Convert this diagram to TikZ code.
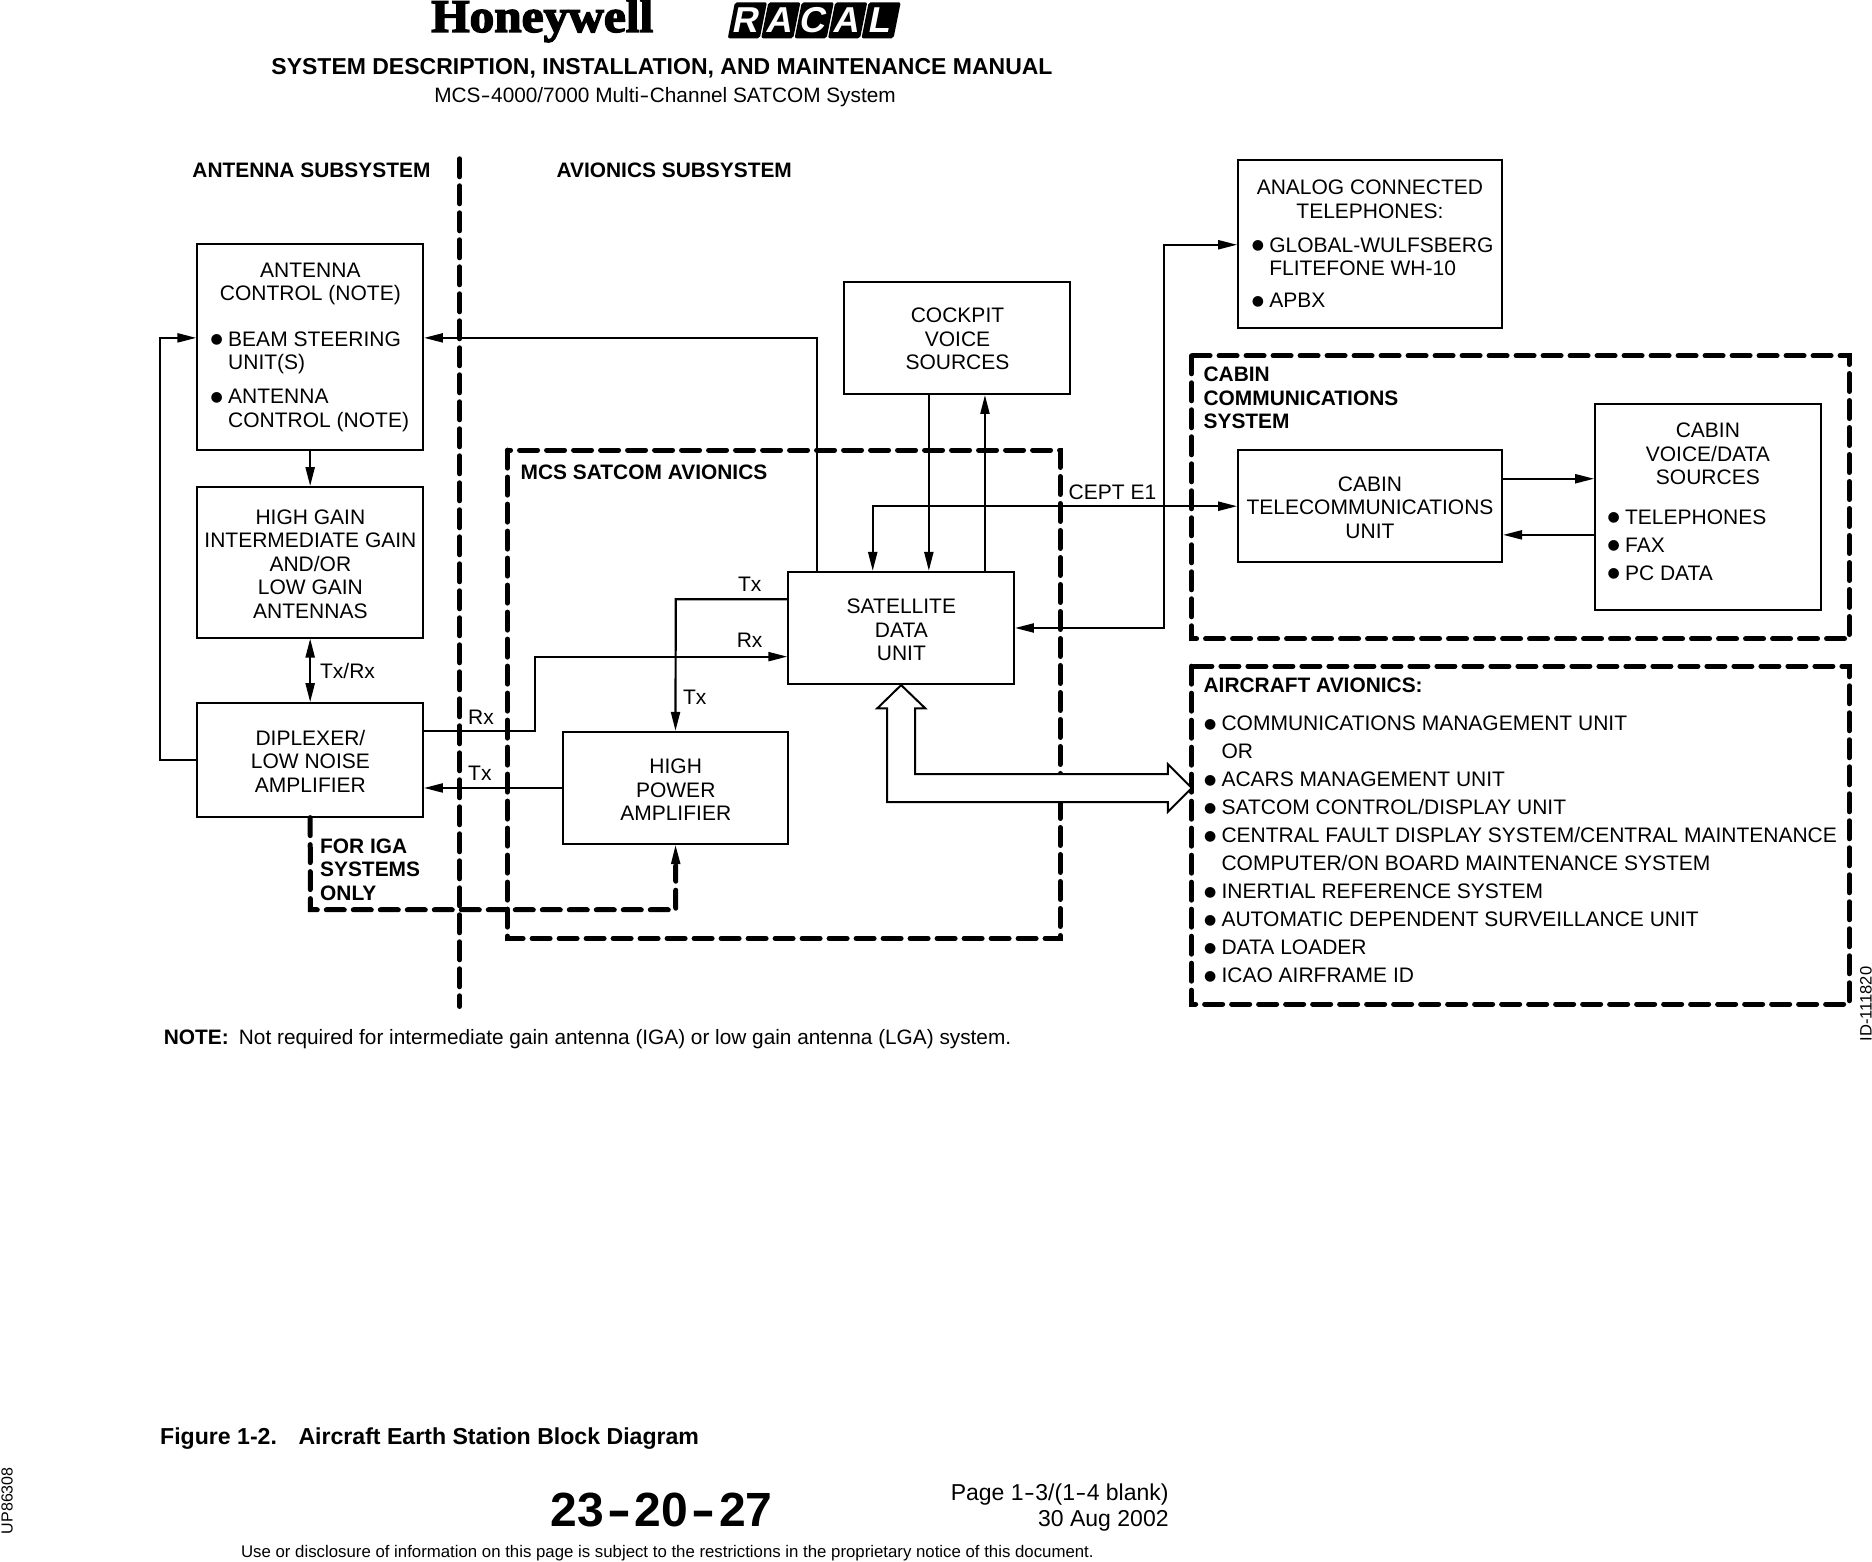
\documentclass[tikz,border=0pt]{standalone}
\usepackage{fontspec}
\setmainfont{Liberation Sans}
\newfontfamily\logofont[BoldFeatures={FakeBold=3}]{Liberation Serif}
\newfontfamily\dotfont{DejaVu Sans}
\usetikzlibrary{arrows.meta}
\newcommand{\bul}{\llap{\raisebox{2.5pt}{\dotfont\fontsize{14}{14}\selectfont ●}\hspace{5.3pt}}}
\newcommand{\hy}{\hspace{0.5pt}\scalebox{1.4}[1]{-}\hspace{0.5pt}}
\newcommand{\bighy}{\hspace{3.5pt}\scalebox{1.5}[1]{-}\hspace{3.5pt}}
\tikzset{
	box/.style={draw, fill=white, line width=2pt, minimum width=225.6pt, inner sep=0pt},
	lbl/.style={inner sep=0pt, anchor=base west, font=\boxfont},
	head/.style={inner sep=0pt, anchor=base west, align=left, font=\headfont},
	list/.style={inner sep=0pt, anchor=north west, align=left, font=\boxfont},
	title/.style={inner sep=0pt, align=center, font=\boxfont},
	conn/.style={line width=2.2pt, >={Triangle[length=19pt,width=9pt]}},
	bold dash/.style={line width=5pt, line cap=round, dash pattern=on 18pt off 9pt},
	tile/.style={fill=black, text=white, inner sep=0pt, minimum width=32pt, minimum height=36pt, rounded corners=2pt, xslant=0.2, transform shape, font=\fontsize{36}{36}\selectfont\bfseries},
}
\newcommand{\boxfont}{\fontsize{21}{23.4}\selectfont}
\newcommand{\headfont}{\fontsize{20.9}{23.4}\selectfont\bfseries}
\begin{document}
\begin{tikzpicture}[x=1.1939pt, y=-1.1939pt]
	\useasboundingbox (0,0) rectangle (1568,1308);
	% page head
	\node[inner sep=0pt, anchor=base west] (honeywell) at (361,26.8) {\fontsize{47}{47}\logofont\selectfont\bfseries\scalebox{1.05}[1]{Honeywell}};
	\node[tile] (logoR) at (626,17) {R};
	\node[tile] (logoA) at (654,17) {A};
	\node[tile] (logoC) at (682,17) {C};
	\node[tile] (logoB) at (710,17) {A};
	\node[tile] (logoL) at (738,17) {L};
	\node[inner sep=0pt] (manual) at (554.5,57) {\fontsize{23}{23}\selectfont\bfseries SYSTEM DESCRIPTION, INSTALLATION, AND MAINTENANCE MANUAL};
	\node[inner sep=0pt] (system) at (557,81) {\fontsize{20.8}{21}\selectfont MCS\hy 4000/7000 Multi\hy Channel SATCOM System};

	% subsystem divider and dashed groups
	\coordinate (divtop) at (385,133);
	\coordinate (divend) at (385,843);
	\draw[bold dash] (divtop) -- (divend);
	\draw[bold dash] (425,377) rectangle (888,786);
	\draw[bold dash] (998,298) rectangle (1549,535);
	\draw[bold dash] (998,558) rectangle (1549,841);
	\node[head] (antsub) at (161,149) {ANTENNA SUBSYSTEM};
	\node[head] (avisub) at (466,149) {AVIONICS SUBSYSTEM};
	\node[head] (mcshead) at (436,402) {MCS SATCOM AVIONICS};
	\node[head, anchor=north west] (cabinhead) at (1008,307.5) {CABIN\\COMMUNICATIONS\\SYSTEM};
	\node[head] (airhead) at (1008,580) {AIRCRAFT AVIONICS:};

	% boxes
	\node[box, minimum height=206.5pt] (antctl) at (259.8,290.5) {};
	\node[title] (antctltitle) at (260,238) {ANTENNA\\CONTROL (NOTE)};
	\node[list] (antctllist) at (191,277.5) {\bul BEAM STEERING\\UNIT(S)\\[11pt]\bul ANTENNA\\CONTROL (NOTE)};
	\node[box, minimum height=150.4pt] (hga) at (259.8,471) {};
	\node[title] (hgatitle) at (260,472.5) {HIGH GAIN\\INTERMEDIATE GAIN\\AND/OR\\LOW GAIN\\ANTENNAS};
	\node[box, minimum height=113.4pt] (diplex) at (259.8,636.5) {};
	\node[title] (diplextitle) at (260,637.5) {DIPLEXER/\\LOW NOISE\\AMPLIFIER};
	\node[box, minimum height=112.2pt] (cockpit) at (801.8,283) {};
	\node[title] (cockpittitle) at (802,284) {COCKPIT\\VOICE\\SOURCES};
	\node[box, minimum height=112.2pt] (sdu) at (754.8,526) {};
	\node[title] (sdutitle) at (755,527.5) {SATELLITE\\DATA\\UNIT};
	\node[box, minimum height=112.2pt] (hpa) at (565.8,660) {};
	\node[title] (hpatitle) at (566,661.5) {HIGH\\POWER\\AMPLIFIER};
	\node[box, minimum width=263.9pt, minimum height=168.3pt] (analog) at (1147.6,204.5) {};
	\node[title] (analogtitle) at (1147.5,167) {ANALOG CONNECTED\\TELEPHONES:};
	\node[list] (analoglist) at (1063,199) {\bul GLOBAL-WULFSBERG\\FLITEFONE WH-10\\[8.6pt]\bul APBX};
	\node[box, minimum width=263.9pt, minimum height=112.2pt] (ctu) at (1147.6,424) {};
	\node[title] (ctutitle) at (1147.5,425) {CABIN\\TELECOMMUNICATIONS\\UNIT};
	\node[box, minimum height=206.5pt] (cvd) at (1430.6,424.5) {};
	\node[title] (cvdtitle) at (1430.5,380.3) {CABIN\\VOICE/DATA\\SOURCES};
	\node[list, font=\fontsize{21}{28}\selectfont] (cvdlist) at (1361,426.5) {\bul TELEPHONES\\\bul FAX\\\bul PC DATA};
	\node[list, font=\fontsize{21}{28}\selectfont] (airlist) at (1023,599.5) {\bul COMMUNICATIONS MANAGEMENT UNIT\\OR\\\bul ACARS MANAGEMENT UNIT\\\bul SATCOM CONTROL/DISPLAY UNIT\\\bul CENTRAL FAULT DISPLAY SYSTEM/CENTRAL MAINTENANCE\\COMPUTER/ON BOARD MAINTENANCE SYSTEM\\\bul INERTIAL REFERENCE SYSTEM\\\bul AUTOMATIC DEPENDENT SURVEILLANCE UNIT\\\bul DATA LOADER\\\bul ICAO AIRFRAME ID};

	% connectors
	\coordinate (steer) at (684,283);
	\coordinate (feedback) at (134,636.5);
	\coordinate (rxlow) at (448,612);
	\coordinate (rxhigh) at (448,550);
	\coordinate (txsdu) at (566,502);
	\coordinate (voicedown) at (778,400);
	\coordinate (voiceup) at (825,400);
	\coordinate (cept) at (731,424);
	\coordinate (analoglow) at (975,526);
	\coordinate (analoghigh) at (975,205);
	\coordinate (cabinout) at (1297,401);
	\coordinate (cabinin) at (1297,448);
	\draw[conn,->] (steer |- sdu.north) -- (steer) -- (steer -| antctl.east);
	\draw[conn,->] (diplex.west) -- (feedback) -- (feedback |- steer) -- (steer -| antctl.west);
	\draw[conn,->] (antctl.south) -- (hga.north);
	\draw[conn,<->] (hga.south) -- (diplex.north);
	\draw[conn,->] (rxlow -| diplex.east) -- (rxlow) -- (rxhigh) -- (rxhigh -| sdu.west);
	\draw[conn,->] (hpa.west) -- (hpa.west -| diplex.east);
	\draw[conn,->] (txsdu -| sdu.west) -- (txsdu) -- (hpa.north);
	\draw[conn,->] (voicedown |- cockpit.south) -- (voicedown |- sdu.north);
	\draw[conn,->] (voiceup |- sdu.north) -- (voiceup |- cockpit.south);
	\draw[conn,<->] (cept |- sdu.north) -- (cept) -- (ctu.west);
	\draw[conn,<->] (analoglow -| sdu.east) -- (analoglow) -- (analoghigh) -- (analoghigh -| analog.west);
	\draw[conn,->] (cabinout -| ctu.east) -- (cabinout -| cvd.west);
	\draw[conn,->] (cabinin -| cvd.west) -- (cabinin -| ctu.east);
	\coordinate (igalow) at (260,762);
	\coordinate (igahigh) at (566,725);
	\draw[bold dash] (diplex.south) -- (igalow) -- (igalow -| igahigh) -- (igahigh);
	\draw[conn,->] (igahigh) -- (hpa.south);
	\draw[fill=white, line width=2pt, line join=miter] (sdu.south) -- ++(-20,19.5) -- ++(8.2,0) -- (743,671.8) -- (978.3,671.8) -- (978.3,679.9) -- (998.2,660) -- (978.3,640.2) -- (978.3,648.3) -- (766.4,648.3) -- (766.4,593.3) -- (775,593.3) -- cycle;

	% connector labels
	\node[lbl] (lbltxrx) at (268,568.5) {Tx/Rx};
	\node[lbl] (lblrxa) at (392,606.5) {Rx};
	\node[lbl] (lbltxa) at (392,654) {Tx};
	\node[lbl] (lblrxb) at (617,542.5) {Rx};
	\node[lbl] (lbltxb) at (618,495.5) {Tx};
	\node[lbl] (lbltxc) at (572,590.5) {Tx};
	\node[lbl] (lblcept) at (895,418) {CEPT E1};
	\node[head, anchor=north west] (igahead) at (268,702.5) {FOR IGA\\SYSTEMS\\ONLY};
	\node[head] (notehead) at (137,875) {NOTE:};
	\node[lbl, font=\fontsize{20.8}{23}\selectfont] (notetext) at (200,875) {Not required for intermediate gain antenna (IGA) or low gain antenna (LGA) system.};
	\node[inner sep=0pt, rotate=90, font=\fontsize{16.5}{16.5}\selectfont] (figid) at (1563,841) {ID-111820};

	% page foot
	\node[head, font=\fontsize{23.1}{23}\selectfont\bfseries] (caption) at (134,1210) {Figure 1-2.\hspace{13pt} Aircraft Earth Station Block Diagram};
	\node[inner sep=0pt, font=\fontsize{48}{48}\selectfont\bfseries] (chapter) at (554,1265) {23\bighy 20\bighy 27};
	\node[inner sep=0pt, anchor=north east, align=right, font=\fontsize{23}{26}\selectfont] (pageno) at (979,1242.5) {Page 1\hy 3/(1\hy 4 blank)\\30 Aug 2002};
	\node[inner sep=0pt, font=\fontsize{16.8}{16.8}\selectfont] (notice) at (559,1301) {Use or disclosure of information on this page is subject to the restrictions in the proprietary notice of this document.};
	\node[inner sep=0pt, rotate=90, font=\fontsize{16}{16}\selectfont] (docid) at (6,1257) {UP86308};
\end{tikzpicture}
\end{document}
